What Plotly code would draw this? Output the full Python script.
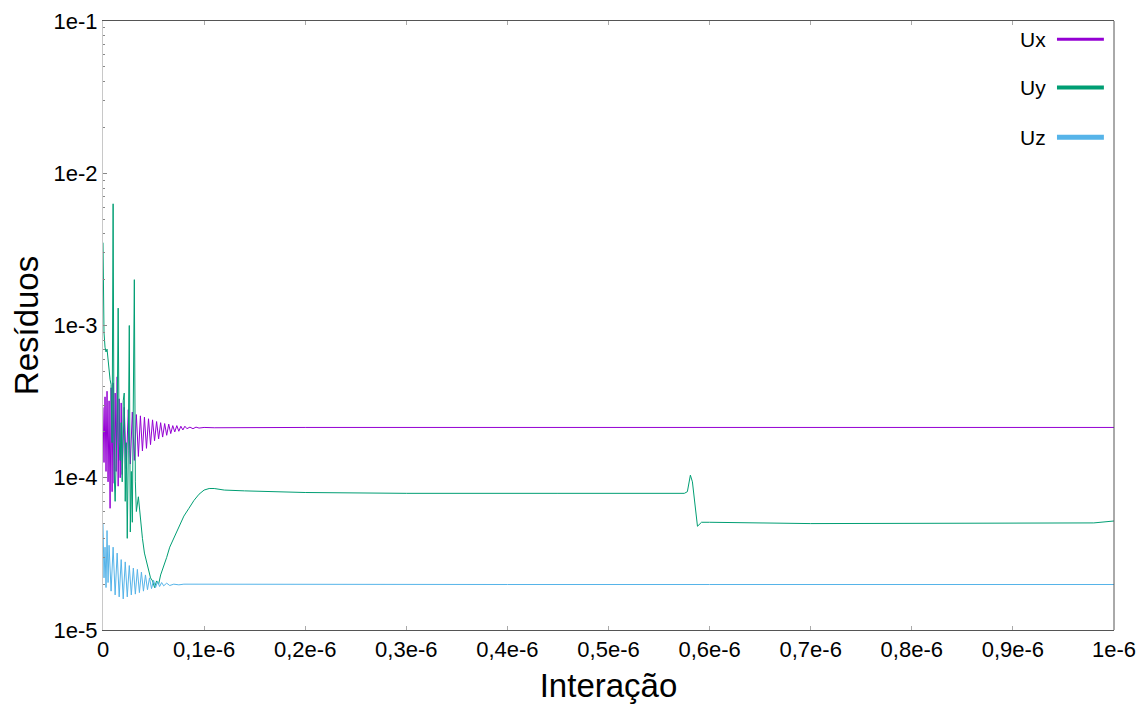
import plotly.graph_objects as go

# ---------------- data ----------------
ux_x = [0e-9, 1e-9, 2e-9, 3e-9, 4e-9, 5e-9, 6e-9, 7e-9, 8e-9, 9e-9, 10e-9, 11e-9, 12e-9, 13e-9,
        14e-9, 15e-9, 16e-9, 17e-9, 18e-9, 19e-9, 21e-9, 23e-9, 25e-9, 27e-9, 29e-9, 31e-9,
        33e-9, 35e-9, 37e-9, 39e-9, 41e-9, 43e-9, 45e-9, 47e-9, 49e-9, 51e-9, 53e-9, 55e-9,
        57e-9, 59e-9, 61e-9, 63e-9, 65e-9, 67e-9, 69e-9, 71e-9, 73e-9, 75e-9, 77e-9, 79e-9,
        81e-9, 83e-9, 86e-9, 89e-9, 92e-9, 95e-9, 100e-9, 110e-9, 200e-9, 400e-9, 600e-9,
        800e-9, 1000e-9]
ux_y = [2.9e-4, 1.26e-4, 3.4e-4, 1.1e-4, 3.7e-4, 9.4e-5, 3.2e-4, 6.3e-5, 3.9e-4, 8.1e-5, 4.2e-4,
        9.2e-5, 3.6e-4, 1.1e-4, 4.6e-4, 8.8e-5, 3.3e-4, 1.0e-4, 3.1e-4, 1.05e-4, 2.9e-4, 1.15e-4,
        2.8e-4, 1.23e-4, 2.7e-4, 1.3e-4, 2.6e-4, 1.38e-4, 2.55e-4, 1.5e-4, 2.5e-4, 1.56e-4,
        2.44e-4, 1.65e-4, 2.4e-4, 1.75e-4, 2.34e-4, 1.8e-4, 2.3e-4, 1.85e-4, 2.27e-4, 1.9e-4,
        2.25e-4, 1.95e-4, 2.2e-4, 2.0e-4, 2.2e-4, 2.02e-4, 2.18e-4, 2.06e-4, 2.18e-4, 2.1e-4,
        2.15e-4, 2.1e-4, 2.15e-4, 2.12e-4, 2.14e-4, 2.13e-4, 2.14e-4, 2.14e-4, 2.14e-4,
        2.14e-4, 2.14e-4]

uy_x = [0e-9, 1e-9, 2e-9, 3e-9, 4e-9, 5e-9, 7e-9, 8e-9, 9e-9, 10e-9, 11e-9, 12e-9, 13e-9, 14e-9,
        15e-9, 16e-9, 17e-9, 18e-9, 19e-9, 20e-9, 21e-9, 22e-9, 23e-9, 24e-9, 25e-9, 26e-9,
        27e-9, 28e-9, 29e-9, 31e-9, 32e-9, 33e-9, 35e-9, 37e-9, 39e-9, 41e-9, 43e-9, 45e-9,
        47e-9, 49e-9, 51e-9, 53e-9, 55e-9, 57e-9, 60e-9, 63e-9, 66e-9, 70e-9, 75e-9, 80e-9,
        85e-9, 90e-9, 95e-9, 100e-9, 105e-9, 110e-9, 120e-9, 140e-9, 200e-9, 300e-9, 450e-9,
        575e-9, 578e-9, 581e-9, 583e-9, 585e-9, 588e-9, 592e-9, 600e-9, 700e-9, 800e-9,
        900e-9, 980e-9, 1000e-9]
uy_y = [3.5e-3, 9e-4, 7.2e-4, 6.7e-4, 7e-4, 5.9e-4, 4.4e-4, 4.1e-4, 1.7e-4, 6.3e-3, 1.1e-4,
        7e-5, 1.7e-4, 2.3e-4, 1.3e-3, 1.7e-4, 1.3e-4, 2.3e-4, 9.4e-5, 3.2e-4, 3.6e-4, 7e-5,
        1.7e-4, 4e-5, 1.5e-4, 1e-3, 4.4e-5, 1.1e-4, 5.1e-5, 2e-3, 9.4e-5, 6e-5, 7.5e-5, 5.1e-5,
        4e-5, 3.2e-5, 2.8e-5, 2.5e-5, 2.2e-5, 2.1e-5, 1.9e-5, 2.1e-5, 2.0e-5, 2.3e-5, 2.6e-5,
        3.0e-5, 3.5e-5, 4e-5, 4.7e-5, 5.6e-5, 6.3e-5, 7.1e-5, 7.8e-5, 8.3e-5, 8.5e-5, 8.5e-5,
        8.3e-5, 8.2e-5, 8.0e-5, 7.9e-5, 7.9e-5, 7.9e-5, 8.1e-5, 1.04e-4, 9.4e-5, 7e-5, 4.8e-5,
        5.1e-5, 5.1e-5, 5.0e-5, 5.0e-5, 5.0e-5, 5.05e-5, 5.2e-5]

uz_x = [0e-9, 1e-9, 2e-9, 3e-9, 4e-9, 5e-9, 6e-9, 8e-9, 10e-9, 12e-9, 14e-9, 16e-9, 18e-9,
        20e-9, 22e-9, 24e-9, 26e-9, 28e-9, 30e-9, 32e-9, 34e-9, 36e-9, 38e-9, 40e-9, 42e-9,
        44e-9, 46e-9, 48e-9, 50e-9, 52e-9, 54e-9, 56e-9, 58e-9, 60e-9, 63e-9, 66e-9, 70e-9,
        75e-9, 80e-9, 200e-9, 400e-9, 600e-9, 800e-9, 1000e-9]
uz_y = [5e-5, 2.2e-5, 3.5e-5, 1.9e-5, 4.5e-5, 2.05e-5, 3.6e-5, 1.8e-5, 3.5e-5, 1.7e-5, 3.2e-5,
        1.65e-5, 2.9e-5, 1.6e-5, 2.8e-5, 1.65e-5, 2.65e-5, 1.7e-5, 2.55e-5, 1.72e-5, 2.5e-5,
        1.76e-5, 2.4e-5, 1.8e-5, 2.3e-5, 1.84e-5, 2.2e-5, 1.87e-5, 2.12e-5, 1.9e-5, 2.08e-5,
        1.93e-5, 2.05e-5, 1.95e-5, 2.03e-5, 1.96e-5, 2.0e-5, 1.98e-5, 2.0e-5, 1.99e-5, 1.99e-5,
        1.99e-5, 1.99e-5, 1.99e-5]

series_names = ["Ux", "Uy", "Uz"]
series_colors = ["#9400D3", "#009E73", "#56B4E9"]

x_tickvals = [0, 0.1e-6, 0.2e-6, 0.3e-6, 0.4e-6, 0.5e-6, 0.6e-6, 0.7e-6, 0.8e-6, 0.9e-6, 1e-6]
x_ticktext = ["0", "0,1e-6", "0,2e-6", "0,3e-6", "0,4e-6", "0,5e-6", "0,6e-6", "0,7e-6",
              "0,8e-6", "0,9e-6", "1e-6"]
y_tickvals = [1e-5, 1e-4, 1e-3, 1e-2, 1e-1]
y_ticktext = ["1e-5", "1e-4", "1e-3", "1e-2", "1e-1"]

FONT = "Liberation Sans, Arial, sans-serif"

fig = go.Figure()
for name, color, xs, ys in zip(series_names, series_colors, [ux_x, uy_x, uz_x], [ux_y, uy_y, uz_y]):
    fig.add_trace(go.Scatter(x=xs, y=ys, mode="lines", name=name,
                             line=dict(color=color, width=1), showlegend=False))

# page body adds an 8px offset, so the figure is 8px smaller on each side
fig.update_layout(
    width=1140, height=696,
    margin=dict(l=95, r=34, t=13, b=74, autoexpand=False),
    paper_bgcolor="white", plot_bgcolor="white",
    font=dict(family=FONT, size=22, color="black"),
)
fig.update_xaxes(
    range=[0, 1e-6], tickmode="array", tickvals=x_tickvals, ticktext=x_ticktext,
    showline=True, linecolor="#555555", linewidth=1, mirror="ticks",
    ticks="inside", ticklen=4, tickcolor="#aaaaaa", showgrid=False, zeroline=False,
    tickfont=dict(family=FONT, size=22, color="black"), automargin=False,
    ticklabeloverflow="allow",
    title=dict(text="Interação", font=dict(family=FONT, size=33), standoff=12),
)
fig.update_yaxes(
    type="log", range=[-5, -1], tickmode="array", tickvals=y_tickvals, ticktext=y_ticktext,
    showline=True, linecolor="#c8c8c8", linewidth=1, mirror=False,
    ticks="inside", ticklen=4, tickcolor="#888888", showgrid=False, zeroline=False,
    minor=dict(ticks="inside", ticklen=2, tickcolor="#888888", dtick="D1", showgrid=False),
    tickfont=dict(family=FONT, size=22, color="black"), automargin=False,
    ticklabeloverflow="allow",
    title=dict(text="Resíduos", font=dict(family=FONT, size=33), standoff=12),
)
# right frame line
fig.add_shape(type="line", xref="paper", yref="paper", x0=1, x1=1, y0=0, y1=1,
              line=dict(color="#555555", width=1))

# custom legend (text to the left of the line sample)
legend_rows = [0.970, 0.891, 0.809]
legend_widths = [3, 4, 5]
for name, color, yy, lw in zip(series_names, series_colors, legend_rows, legend_widths):
    fig.add_annotation(xref="paper", yref="paper", x=0.9347, y=yy, text=name, showarrow=False,
                       xanchor="right", yanchor="middle", font=dict(size=21, color="black"))
    fig.add_shape(type="line", xref="paper", yref="paper", x0=0.9436, x1=0.990, y0=yy, y1=yy,
                  line=dict(color=color, width=lw))

fig.write_html("out.html", config={"responsive": False})
